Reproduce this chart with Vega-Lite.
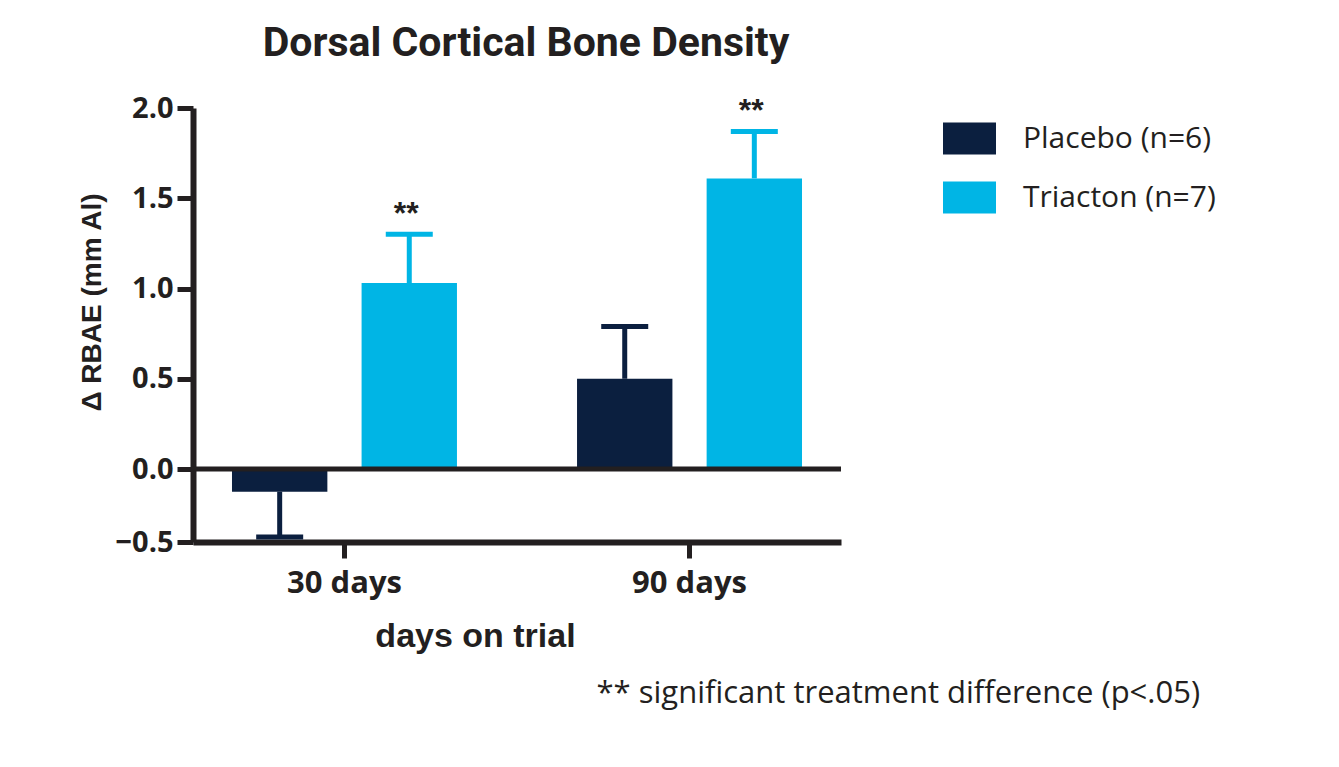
{
  "$schema": "https://vega.github.io/schema/vega-lite/v6.json",
  "width": 648,
  "height": 434,
  "autosize": {"type": "none"},
  "padding": {"left": 193, "top": 108, "right": 498, "bottom": 225},
  "background": "white",
  "title": {
    "text": "Dorsal Cortical Bone Density",
    "font": "Roboto",
    "fontWeight": "bold",
    "fontSize": 41,
    "color": "#231f20",
    "anchor": "middle",
    "dx": 9,
    "offset": -3,
    "baseline": "alphabetic"
  },
  "config": {"view": {"stroke": null}},
  "data": {
    "values": [
      {"period": "30 days", "group": "Placebo (n=6)", "value": -0.155, "err": -0.465, "sig": ""},
      {"period": "30 days", "group": "Triacton (n=7)", "value": 1.03, "err": 1.3, "sig": "**"},
      {"period": "90 days", "group": "Placebo (n=6)", "value": 0.5, "err": 0.79, "sig": ""},
      {"period": "90 days", "group": "Triacton (n=7)", "value": 1.61, "err": 1.87, "sig": "**"}
    ]
  },
  "layer": [
    {
      "encoding": {
        "x": {
          "field": "period",
          "type": "nominal",
          "sort": ["30 days", "90 days"],
          "scale": {"paddingInner": 0.348, "paddingOuter": 0.113},
          "axis": {
            "title": "days on trial",
            "labelAngle": 0,
            "domainColor": "#231f20",
            "domainWidth": 6,
            "tickColor": "#231f20",
            "tickWidth": 5,
            "tickSize": 16,
            "labelFont": "Open Sans",
            "labelFontWeight": "bold",
            "labelFontSize": 31,
            "labelColor": "#231f20",
            "labelBaseline": "alphabetic",
            "labelPadding": 34,
            "titleFont": "Liberation Sans",
            "titleFontWeight": "bold",
            "titleFontSize": 34,
            "titleColor": "#231f20",
            "titleX": 282,
            "titleY": 104,
            "titleBaseline": "alphabetic",
            "titleAlign": "center"
          }
        },
        "xOffset": {
          "field": "group",
          "type": "nominal",
          "sort": ["Placebo (n=6)", "Triacton (n=7)"],
          "scale": {"paddingInner": 0.264, "paddingOuter": 0}
        },
        "color": {
          "field": "group",
          "type": "nominal",
          "sort": ["Placebo (n=6)", "Triacton (n=7)"],
          "scale": {"domain": ["Placebo (n=6)", "Triacton (n=7)"], "range": ["#0b1f3f", "#00b5e5"]},
          "legend": {
            "orient": "none",
            "legendX": 750,
            "legendY": 4,
            "title": null,
            "symbolType": "M-1,-0.6H1V0.6H-1Z",
            "symbolSize": 2809,
            "symbolStrokeWidth": 0,
            "symbolOpacity": 1,
            "labelFont": "Open Sans",
            "labelFontWeight": "normal",
            "labelFontSize": 30,
            "labelLimit": 400,
            "labelColor": "#231f20",
            "labelOffset": 27,
            "rowPadding": 16
          }
        }
      },
      "layer": [
        {
          "mark": {"type": "bar", "opacity": 1},
          "encoding": {
            "y": {
              "field": "value",
              "type": "quantitative",
              "scale": {"domain": [-0.5, 0, 2], "range": [434, 361, 0], "nice": false, "zero": false},
              "axis": {
                "values": [-0.5, 0, 0.5, 1, 1.5, 2],
                "format": ".1f",
                "grid": false,
                "title": "Δ RBAE (mm Al)",
                "domainColor": "#231f20",
                "domainWidth": 6,
                "tickColor": "#231f20",
                "tickWidth": 5,
                "tickSize": 16,
                "labelFont": "Open Sans",
                "labelFontWeight": "bold",
                "labelFontSize": 29,
                "labelColor": "#231f20",
                "labelPadding": 4,
                "titleFont": "Liberation Sans",
                "titleFontWeight": "bold",
                "titleFontSize": 28,
                "titleColor": "#231f20",
                "titleX": -101,
                "titleY": 194,
                "titleBaseline": "middle",
                "titleAlign": "center",
                "titleAngle": -90
              }
            }
          }
        },
        {
          "mark": {"type": "rule", "strokeWidth": 5},
          "encoding": {
            "y": {"field": "value", "type": "quantitative"},
            "y2": {"field": "err"}
          }
        },
        {
          "mark": {"type": "tick", "thickness": 5, "size": 47, "opacity": 1},
          "encoding": {
            "y": {"field": "err", "type": "quantitative"}
          }
        },
        {
          "mark": {
            "type": "text",
            "dy": -10,
            "dx": -3,
            "font": "Liberation Sans",
            "fontWeight": "bold",
            "fontSize": 32,
            "baseline": "alphabetic",
            "align": "center",
            "color": "#231f20"
          },
          "encoding": {
            "y": {"field": "err", "type": "quantitative"},
            "text": {"field": "sig"},
            "color": {"value": "#231f20"}
          }
        }
      ]
    },
    {
      "data": {"values": [{"zero": 0}]},
      "mark": {"type": "rule", "strokeWidth": 5, "color": "#231f20"},
      "encoding": {
        "y": {
          "field": "zero",
          "type": "quantitative",
          "scale": {"domain": [-0.5, 0, 2], "range": [434, 361, 0], "nice": false, "zero": false},
          "axis": {
            "orient": "right",
            "title": "** significant treatment difference (p<.05)",
            "labels": false,
            "ticks": false,
            "domain": false,
            "grid": false,
            "titleAngle": 0,
            "titleX": -245,
            "titleY": 594,
            "titleAlign": "left",
            "titleBaseline": "alphabetic",
            "titleLimit": 800,
            "titleFont": "Open Sans",
            "titleFontWeight": "normal",
            "titleFontSize": 31,
            "titleColor": "#231f20"
          }
        }
      }
    }
  ],
  "resolve": {"scale": {"y": "independent"}, "axis": {"y": "independent"}}
}
